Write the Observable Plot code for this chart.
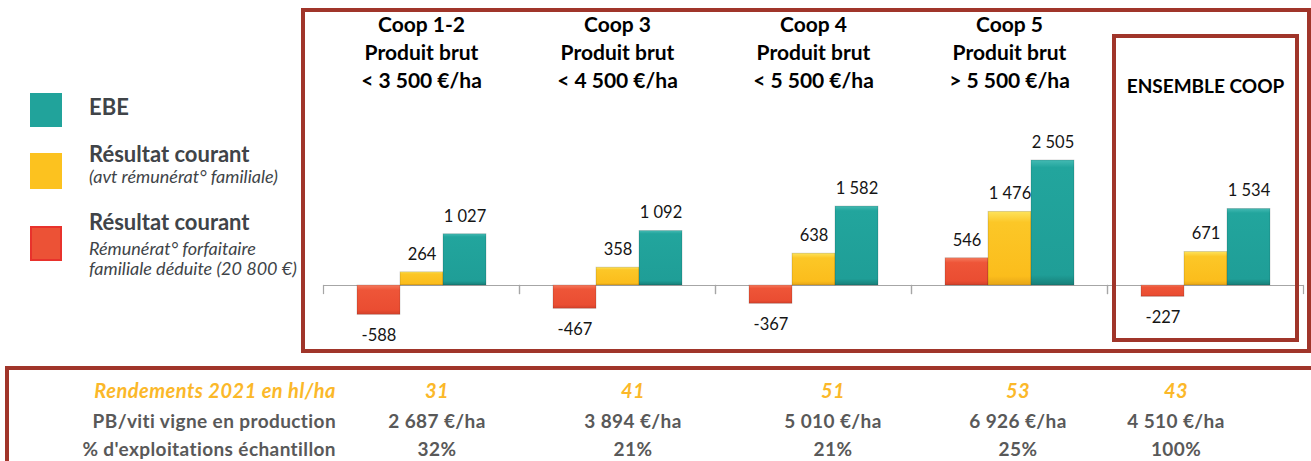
<!DOCTYPE html>
<html><head><meta charset="utf-8">
<script src="https://cdn.jsdelivr.net/npm/d3@7"></script>
<script src="https://cdn.jsdelivr.net/npm/@observablehq/plot@0.6"></script>
<style>
html,body{margin:0;padding:0;background:#fff;}
body{width:1311px;height:461px;position:relative;overflow:hidden;font-family:Lato,"Open Sans",sans-serif;}
.box{position:absolute;box-sizing:border-box;border:4px solid #a0352a;}
.abs{position:absolute;white-space:nowrap;line-height:normal;}
.lg-b{font-weight:700;font-size:22px;color:#404448;}
.lg-i{font-style:italic;font-size:18px;color:#404448;}
.tb{font-weight:700;font-size:19px;color:#595959;letter-spacing:0.4px;}
.tb.or{color:#fbb829;font-style:italic;font-size:20px;letter-spacing:0.5px;}
</style></head><body>
<svg width="0" height="0" style="position:absolute">
  <defs>
    <linearGradient id="g-red" x1="0" y1="0" x2="0" y2="1">
      <stop offset="0" stop-color="#f57a5e"/><stop offset="0.18" stop-color="#ee5538"/><stop offset="0.85" stop-color="#ea4d32"/><stop offset="1" stop-color="#d2412a"/>
    </linearGradient>
    <linearGradient id="g-yellow" x1="0" y1="0" x2="0" y2="1">
      <stop offset="0" stop-color="#fde35c"/><stop offset="0.15" stop-color="#fcc727"/><stop offset="0.88" stop-color="#fbbd1c"/><stop offset="1" stop-color="#e6a517"/>
    </linearGradient>
    <linearGradient id="g-teal" x1="0" y1="0" x2="0" y2="1">
      <stop offset="0" stop-color="#44bab3"/><stop offset="0.06" stop-color="#22a59d"/><stop offset="0.92" stop-color="#1f9e97"/><stop offset="1" stop-color="#177f79"/>
    </linearGradient>
  </defs>
</svg>
<div id="legend"></div>
<div id="chart" style="position:absolute;left:305px;top:10px;width:1003px;height:342px;"></div>
<div class="box" style="left:301px;top:8px;width:1010px;height:345px;"></div>
<div class="box" style="left:1112px;top:34px;width:187px;height:308px;"></div>
<div class="box" style="left:5px;top:366px;width:1400px;height:200px;"></div>
<div id="table"></div>
<script>
// ---- data ----
const groups = ["Coop 1-2", "Coop 3", "Coop 4", "Coop 5", "ENSEMBLE COOP"];
const groupHeaders = [
  "Coop 1-2\nProduit brut\n< 3 500 €/ha",
  "Coop 3\nProduit brut\n< 4 500 €/ha",
  "Coop 4\nProduit brut\n< 5 500 €/ha",
  "Coop 5\nProduit brut\n> 5 500 €/ha",
  "ENSEMBLE COOP"
];
const seriesKeys = ["RC déduit", "RC", "EBE"];
const seriesColors = ["url(#g-red)", "url(#g-yellow)", "url(#g-teal)"];
const legendSwatches = ["#ec5236", "#fcc21f", "#21a39b"];
const rcDeduit = [-588, -467, -367, 546, -227];
const rcCourant = [264, 358, 638, 1476, 671];
const ebe = [1027, 1092, 1582, 2505, 1534];

const legendTitles = ["EBE", "Résultat courant", "Résultat courant"];
const legendSubs = [[], ["(avt rémunérat° familiale)"], ["Rémunérat° forfaitaire", "familiale déduite (20 800 €)"]];

const rowLabels = ["Rendements 2021 en hl/ha", "PB/viti vigne en production", "% d'exploitations échantillon"];
const rendements = [31, 41, 51, 53, 43];
const pbViti = [2687, 3894, 5010, 6926, 4510];
const pctExpl = [32, 21, 21, 25, 100];

// ---- build ----
const fmt = v => d3.format(",")(v).replace(/,/g, " ").replace("−", "-");
const seriesValues = [rcDeduit, rcCourant, ebe];
const data = [];
groups.forEach((g, i) => seriesKeys.forEach((s, j) => data.push({group: g, series: s, value: seriesValues[j][i]})));
const headers = groups.map((g, i) => ({group: g, label: groupHeaders[i]}));

const chart = Plot.plot({
  width: 1003, height: 342,
  marginLeft: 17, marginRight: 5, marginTop: 0, marginBottom: 0,
  style: {background: "transparent", fontFamily: "Lato, 'Open Sans', sans-serif"},
  fx: {domain: groups, padding: 0, axis: null},
  x: {domain: seriesKeys, paddingInner: 0, paddingOuter: 0.755, axis: null},
  y: {domain: [-1343, 5511], axis: null},
  color: {domain: seriesKeys, range: seriesColors},
  marks: [
    Plot.ruleY([0], {stroke: "#a6a6a6", strokeWidth: 1.2}),
    Plot.frame({anchor: "left", insetTop: 275, insetBottom: 59, stroke: "#a6a6a6", strokeWidth: 1.2}),
    Plot.frame({anchor: "right", insetTop: 275, insetBottom: 59, stroke: "#a6a6a6", strokeWidth: 1.2}),
    Plot.barY(data, {fx: "group", x: "series", y: "value", fill: "series", stroke: "rgba(0,0,0,0.18)", strokeWidth: 0.8}),
    Plot.text(data.filter(d => d.value >= 0), {fx: "group", x: "series", y: "value", text: d => fmt(d.value), dy: -18, fontSize: 16.5, fill: "#151515"}),
    Plot.text(data.filter(d => d.value < 0), {fx: "group", x: "series", y: "value", text: d => fmt(d.value), dy: 21, fontSize: 16.5, fill: "#151515"}),
    Plot.text(headers.filter(d => d.label.includes("\n")), {fx: "group", text: "label", frameAnchor: "top", lineAnchor: "top", dy: 2.1, lineHeight: 1.333, fontSize: 21, fontWeight: "bold", fill: "#000"}),
    Plot.text(headers.filter(d => !d.label.includes("\n")), {fx: "group", text: "label", frameAnchor: "top", lineAnchor: "top", dy: 68.5, fontSize: 19, fontWeight: "bold", fill: "#000"})
  ]
});
document.getElementById("chart").append(chart);

// ---- legend ----
const legend = document.getElementById("legend");
const swTops = [93, 153, 226], swH = [34, 36, 35];
const titleBase = [115, 162, 230];
const subBase = [[], [183], [255, 275]];
legendTitles.forEach((t, i) => {
  const sw = document.createElement("div");
  sw.className = "abs";
  sw.style.cssText = `left:30px;top:${swTops[i]}px;width:32px;height:${swH[i]}px;background:${legendSwatches[2 - i]};box-sizing:border-box;` + (i === 2 ? "border:2px solid #e8322c;" : "");
  legend.append(sw);
  const tt = document.createElement("div");
  tt.className = "abs lg-b";
  tt.style.left = "89px"; tt.style.top = (titleBase[i] - 0.987 * 22) + "px";
  tt.textContent = t;
  legend.append(tt);
  legendSubs[i].forEach((s, k) => {
    const st = document.createElement("div");
    st.className = "abs lg-i";
    st.style.left = "89px"; st.style.top = (subBase[i][k] - 0.987 * 18) + "px";
    st.textContent = s;
    legend.append(st);
  });
});

// ---- table ----
const table = document.getElementById("table");
const colCenters = [437, 633, 833, 1018, 1176];
const rowBase = [397.5, 427.5, 455.5];
const rows = [rendements.map(String), pbViti.map(v => fmt(v) + " €/ha"), pctExpl.map(v => v + "%")];
rows.forEach((vals, r) => {
  const fs = r === 0 ? 20 : 19;
  const top = rowBase[r] - 0.987 * fs;
  const lab = document.createElement("div");
  lab.className = "abs tb" + (r === 0 ? " or" : "");
  lab.style.cssText += `left:0;width:336px;text-align:right;top:${top}px;`;
  lab.textContent = rowLabels[r];
  table.append(lab);
  vals.forEach((v, c) => {
    const d = document.createElement("div");
    d.className = "abs tb" + (r === 0 ? " or" : "");
    d.style.cssText += `left:${colCenters[c] - 80}px;width:160px;text-align:center;top:${top}px;`;
    d.textContent = v;
    table.append(d);
  });
});
</script>
</body></html>
